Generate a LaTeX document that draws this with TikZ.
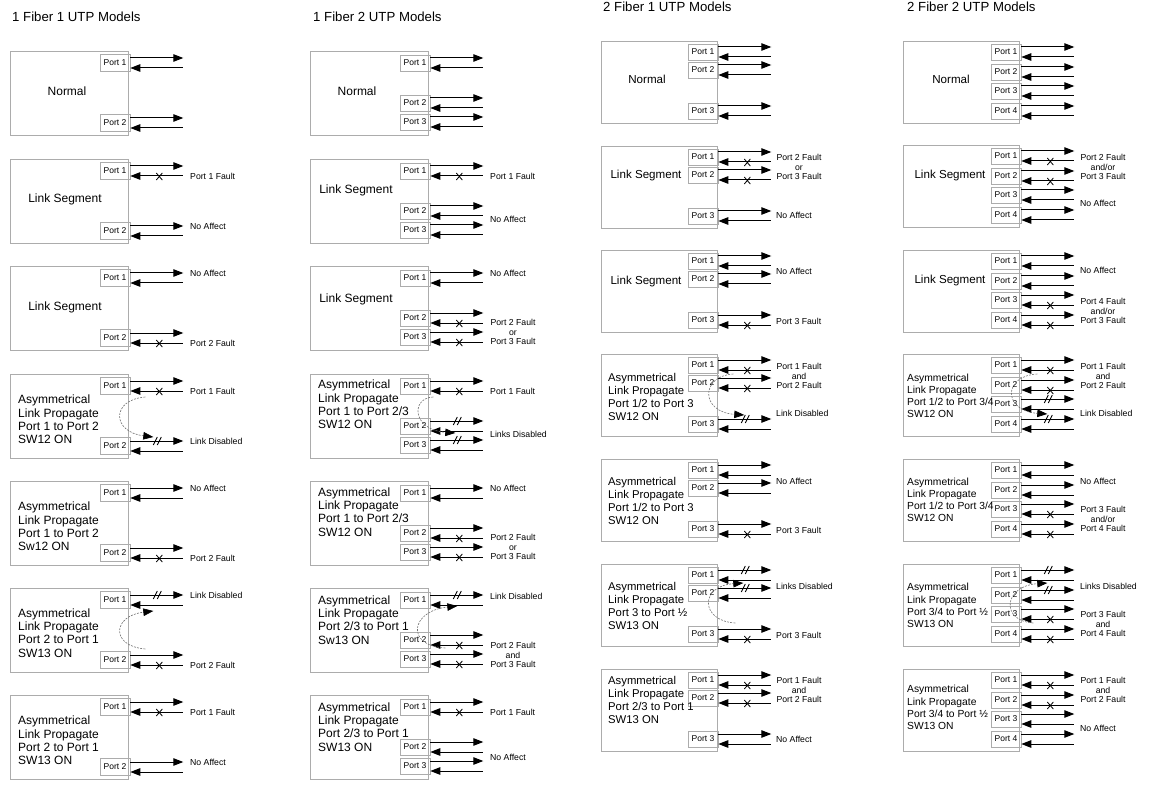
\documentclass[tikz,border=0pt]{standalone}
\usepackage{fontspec}
\setmainfont{Liberation Sans}
\usetikzlibrary{arrows.meta}

\tikzset{
  unitbox/.style={draw=gray!65, line width=0.7pt, anchor=north west, inner sep=0pt},
  portbox/.style={draw=gray!65, line width=0.6pt, minimum width=30pt, inner sep=0pt, font=\fontsize{8.5}{9}\selectfont},
  sig/.style={line width=1pt, -{Triangle[length=10pt,width=7.5pt]}},
  rsig/.style={line width=1pt, {Triangle[length=10pt,width=7.5pt]}-},
  xmark/.style={line width=0.8pt},
  prop/.style={draw=gray!90!black, line width=0.6pt, dash pattern=on 2pt off 1.2pt, -{Triangle[length=10pt,width=7.5pt,color=black]}},
  note/.style={font=\fontsize{8.7}{9.8}\selectfont, anchor=west, inner sep=0pt},
  notes/.style={font=\fontsize{8.7}{9.8}\selectfont, align=center, inner sep=0pt},
  boxtxt/.style={font=\fontsize{12}{13.3}\selectfont, inner sep=0pt},
  boxtxtc/.style={boxtxt, font=\fontsize{11.6}{13}\selectfont},
  asym/.style={boxtxt, anchor=west, align=left},
  asymc/.style={asym, font=\fontsize{11.3}{13}\selectfont},
  asymd/.style={asym, font=\fontsize{10.3}{12.2}\selectfont},
  title/.style={font=\fontsize{13.2}{14}\selectfont, anchor=west, inner sep=0pt}
}

% one unit: name, left, top, width, height, port x, port list, port height
\newcommand{\unitpanel}[8]{%
  \node[unitbox, minimum width=#4pt, minimum height=#5pt] (#1) at (#2,#3) {};
  \foreach \p/\dy [count=\n] in {#7} {
    \node[portbox, minimum height=#8pt] (#1\p) at (#6,#3+\dy) {Port \n};
    \draw[sig] ([yshift=5pt]#1\p.east) -- +(53,0);
    \draw[rsig] ([yshift=-5pt]#1\p.east) -- +(53,0);
  }%
}
\newcommand{\unitA}[2]{\unitpanel{#1}{10}{#2}{118}{84}{115}{a/12,b/72}{17}}
\newcommand{\unitB}[2]{\unitpanel{#1}{310}{#2}{118}{84}{415}{a/12,b/52,c/71}{16}}
\newcommand{\unitC}[2]{\unitpanel{#1}{601}{#2}{116}{82}{703}{a/11,b/29,c/70}{16}}
\newcommand{\unitD}[2]{\unitpanel{#1}{903}{#2}{116}{82}{1006}{a/11,b/31,c/50,d/70}{16}}

% X on the return line, // on the outgoing line
\newcommand{\fault}[1]{\draw[xmark] ([shift={(29pt,-5.5pt)}]#1.east) +(-3,-3.5) -- +(3,3.5) +(-3,3.5) -- +(3,-3.5);}
\newcommand{\cutmark}[1]{\draw[xmark] ([shift={(28pt,5pt)}]#1.east) +(-5,4) -- +(-1,-4) +(-1,4) -- +(3,-4);}

\begin{document}
\begin{tikzpicture}[x=1pt, y=-1pt]
  \useasboundingbox (0,0) rectangle (1156,786);

  % titles
  \node[title] (t1) at (12,17) {1 Fiber 1 UTP Models};
  \node[title] (t2) at (313,17) {1 Fiber 2 UTP Models};
  \node[title] (t3) at (603,7) {2 Fiber 1 UTP Models};
  \node[title] (t4) at (907,7) {2 Fiber 2 UTP Models};

  % 1 fiber 1 UTP
  \unitA{c1p1}{51}
  \node[boxtxt] (c1p1t) at (67,91) {Normal};
  \unitA{c1p2}{159}
  \node[boxtxt] (c1p2t) at (65,199) {Link Segment};
  \fault{c1p2a}
  \node[note] (c1p2n) at (190,176) {Port 1 Fault};
  \node[note] (c1p2m) at (190,226) {No Affect};
  \unitA{c1p3}{266}
  \node[boxtxt] (c1p3t) at (65,307) {Link Segment};
  \fault{c1p3b}
  \node[note] (c1p3n) at (190,273) {No Affect};
  \node[note] (c1p3m) at (190,343) {Port 2 Fault};
  \unitA{c1p4}{374}
  \node[asym] (c1p4t) at (18,419.5) {Asymmetrical\\Link Propagate\\Port 1 to Port 2\\SW12 ON};
  \fault{c1p4a} \cutmark{c1p4b}
  \node[note] (c1p4n) at (190,391) {Port 1 Fault};
  \node[note] (c1p4m) at (190,441) {Link Disabled};
  \draw[prop] ([shift={(15pt,-11pt)}]c1p4a.east) .. controls +(-35,3) and +(-41,-5) .. ([shift={(23pt,9pt)}]c1p4b.east);
  \unitA{c1p5}{481}
  \node[asym] (c1p5t) at (18,526.5) {Asymmetrical\\Link Propagate\\Port 1 to Port 2\\Sw12 ON};
  \fault{c1p5b}
  \node[note] (c1p5n) at (190,488) {No Affect};
  \node[note] (c1p5m) at (190,558) {Port 2 Fault};
  \unitA{c1p6}{588}
  \node[asym] (c1p6t) at (18,633) {Asymmetrical\\Link Propagate\\Port 2 to Port 1\\SW13 ON};
  \cutmark{c1p6a} \fault{c1p6b}
  \node[note] (c1p6n) at (190,595) {Link Disabled};
  \node[note] (c1p6m) at (190,665) {Port 2 Fault};
  \draw[prop] ([shift={(15pt,11pt)}]c1p6b.east) .. controls +(-35,-3) and +(-41,5) .. ([shift={(23pt,-11pt)}]c1p6a.east);
  \unitA{c1p7}{695}
  \node[asym] (c1p7t) at (18,740.5) {Asymmetrical\\Link Propagate\\Port 2 to Port 1\\SW13 ON};
  \fault{c1p7a}
  \node[note] (c1p7n) at (190,712) {Port 1 Fault};
  \node[note] (c1p7m) at (190,762) {No Affect};

  % 1 fiber 2 UTP
  \unitB{c2p1}{51}
  \node[boxtxt] (c2p1t) at (357,91) {Normal};
  \unitB{c2p2}{159}
  \node[boxtxt] (c2p2t) at (356,190) {Link Segment};
  \fault{c2p2a}
  \node[note] (c2p2n) at (490,176) {Port 1 Fault};
  \node[note] (c2p2m) at (490,219) {No Affect};
  \unitB{c2p3}{266}
  \node[boxtxt] (c2p3t) at (356,299) {Link Segment};
  \fault{c2p3b} \fault{c2p3c}
  \node[note] (c2p3n) at (490,273) {No Affect};
  \node[notes] (c2p3m) at (513,332) {Port 2 Fault\\or\\Port 3 Fault};
  \unitB{c2p4}{374}
  \node[asym] (c2p4t) at (318,404.5) {Asymmetrical\\Link Propagate\\Port 1 to Port 2/3\\SW12 ON};
  \fault{c2p4a} \cutmark{c2p4b} \cutmark{c2p4c}
  \node[note] (c2p4n) at (490,391) {Port 1 Fault};
  \node[note] (c2p4m) at (490,434) {Links Disabled};
  \draw[prop] ([shift={(3pt,-11pt)}]c2p4a.east) .. controls +(-23,1) and +(-43,-3) .. ([shift={(25pt,-7pt)}]c2p4b.east);
  \unitB{c2p5}{481}
  \node[asym] (c2p5t) at (318,512) {Asymmetrical\\Link Propagate\\Port 1 to Port 2/3\\SW12 ON};
  \fault{c2p5b} \fault{c2p5c}
  \node[note] (c2p5n) at (490,488) {No Affect};
  \node[notes] (c2p5m) at (513,547) {Port 2 Fault\\or\\Port 3 Fault};
  \unitB{c2p6}{588}
  \node[asym] (c2p6t) at (318,620) {Asymmetrical\\Link Propagate\\Port 2/3 to Port 1\\Sw13 ON};
  \cutmark{c2p6a} \fault{c2p6b} \fault{c2p6c}
  \node[note] (c2p6n) at (490,596) {Link Disabled};
  \node[notes] (c2p6m) at (513,655) {Port 2 Fault\\and\\Port 3 Fault};
  \draw[prop] ([shift={(15pt,-8pt)}]c2p6b.east) .. controls +(-40,-2) and +(-47,5) .. ([shift={(27pt,-6pt)}]c2p6a.east);
  \unitB{c2p7}{695}
  \node[asym] (c2p7t) at (318,727) {Asymmetrical\\Link Propagate\\Port 2/3 to Port 1\\SW13 ON};
  \fault{c2p7a}
  \node[note] (c2p7n) at (490,712) {Port 1 Fault};
  \node[note] (c2p7m) at (490,757) {No Affect};

  % 2 fiber 1 UTP
  \unitC{c3p1}{41}
  \node[boxtxtc] (c3p1t) at (647,79) {Normal};
  \unitC{c3p2}{146}
  \node[boxtxtc] (c3p2t) at (646,176) {Link Segment};
  \fault{c3p2a} \fault{c3p2b}
  \node[notes] (c3p2n) at (799,167) {Port 2 Fault\\or\\Port 3 Fault};
  \node[note] (c3p2m) at (776,215) {No Affect};
  \unitC{c3p3}{250}
  \node[boxtxtc] (c3p3t) at (646,282) {Link Segment};
  \fault{c3p3c}
  \node[note] (c3p3n) at (776,271) {No Affect};
  \node[note] (c3p3m) at (776,321) {Port 3 Fault};
  \unitC{c3p4}{354}
  \node[asymc] (c3p4t) at (608,396.5) {Asymmetrical\\Link Propagate\\Port 1/2 to Port 3\\SW12 ON};
  \fault{c3p4a} \fault{c3p4b} \cutmark{c3p4c}
  \node[notes] (c3p4n) at (799,376) {Port 1 Fault\\and\\Port 2 Fault};
  \node[note] (c3p4m) at (776,413) {Link Disabled};
  \draw[prop] ([shift={(15pt,-9pt)}]c3p4a.east) .. controls +(-33,2) and +(-44,-3) .. ([shift={(26pt,9pt)}]c3p4c.east);
  \unitC{c3p5}{459}
  \node[asymc] (c3p5t) at (608,500.5) {Asymmetrical\\Link Propagate\\Port 1/2 to Port 3\\SW12 ON};
  \fault{c3p5c}
  \node[note] (c3p5n) at (776,481) {No Affect};
  \node[note] (c3p5m) at (776,530) {Port 3 Fault};
  \unitC{c3p6}{564}
  \node[asymc] (c3p6t) at (608,605.5) {Asymmetrical\\Link Propagate\\Port 3 to Port ½\\SW13 ON};
  \cutmark{c3p6a} \cutmark{c3p6b} \fault{c3p6c}
  \node[note] (c3p6n) at (776,586) {Links Disabled};
  \node[note] (c3p6m) at (776,635) {Port 3 Fault};
  \draw[prop] ([shift={(17pt,11pt)}]c3p6c.east) .. controls +(-35,-2) and +(-44,3) .. ([shift={(25pt,-8pt)}]c3p6a.east);
  \unitC{c3p7}{669}
  \node[asymc] (c3p7t) at (608,699.5) {Asymmetrical\\Link Propagate\\Port 2/3 to Port 1\\SW13 ON};
  \fault{c3p7a} \fault{c3p7b}
  \node[notes] (c3p7n) at (799,690) {Port 1 Fault\\and\\Port 2 Fault};
  \node[note] (c3p7m) at (776,739) {No Affect};

  % 2 fiber 2 UTP
  \unitD{c4p1}{41}
  \node[boxtxtc] (c4p1t) at (951,79) {Normal};
  \unitD{c4p2}{145}
  \node[boxtxtc] (c4p2t) at (950,176) {Link Segment};
  \fault{c4p2a} \fault{c4p2b}
  \node[notes] (c4p2n) at (1103,167) {Port 2 Fault\\and/or\\Port 3 Fault};
  \node[note] (c4p2m) at (1080,203) {No Affect};
  \unitD{c4p3}{250}
  \node[boxtxtc] (c4p3t) at (950,281) {Link Segment};
  \fault{c4p3c} \fault{c4p3d}
  \node[note] (c4p3n) at (1080,270) {No Affect};
  \node[notes] (c4p3m) at (1103,311) {Port 4 Fault\\and/or\\Port 3 Fault};
  \unitD{c4p4}{354}
  \node[asymd] (c4p4t) at (907,396) {Asymmetrical\\Link Propagate\\Port 1/2 to Port 3/4\\SW12 ON};
  \fault{c4p4a} \fault{c4p4b} \cutmark{c4p4c} \cutmark{c4p4d}
  \node[notes] (c4p4n) at (1103,376) {Port 1 Fault\\and\\Port 2 Fault};
  \node[note] (c4p4m) at (1080,413) {Link Disabled};
  \draw[prop] ([shift={(16pt,-9pt)}]c4p4a.east) .. controls +(-35,2) and +(-44,-3) .. ([shift={(26pt,-10pt)}]c4p4c.east);
  \unitD{c4p5}{459}
  \node[asymd] (c4p5t) at (907,500) {Asymmetrical\\Link Propagate\\Port 1/2 to Port 3/4\\SW12 ON};
  \fault{c4p5c} \fault{c4p5d}
  \node[note] (c4p5n) at (1080,481) {No Affect};
  \node[notes] (c4p5m) at (1103,519) {Port 3 Fault\\and/or\\Port 4 Fault};
  \unitD{c4p6}{564}
  \node[asymd] (c4p6t) at (907,605.5) {Asymmetrical\\Link Propagate\\Port 3/4 to Port ½\\SW13 ON};
  \cutmark{c4p6a} \cutmark{c4p6b} \fault{c4p6c} \fault{c4p6d}
  \node[note] (c4p6n) at (1080,586) {Links Disabled};
  \node[notes] (c4p6m) at (1103,624) {Port 3 Fault\\and\\Port 4 Fault};
  \draw[prop] ([shift={(12pt,-9pt)}]c4p6c.east) .. controls +(-33,-2) and +(-44,3) .. ([shift={(26pt,-8pt)}]c4p6a.east);
  \unitD{c4p7}{669}
  \node[asymd] (c4p7t) at (907,707.5) {Asymmetrical\\Link Propagate\\Port 3/4 to Port ½\\SW13 ON};
  \fault{c4p7a} \fault{c4p7b}
  \node[notes] (c4p7n) at (1103,690) {Port 1 Fault\\and\\Port 2 Fault};
  \node[note] (c4p7m) at (1080,728) {No Affect};
\end{tikzpicture}
\end{document}
